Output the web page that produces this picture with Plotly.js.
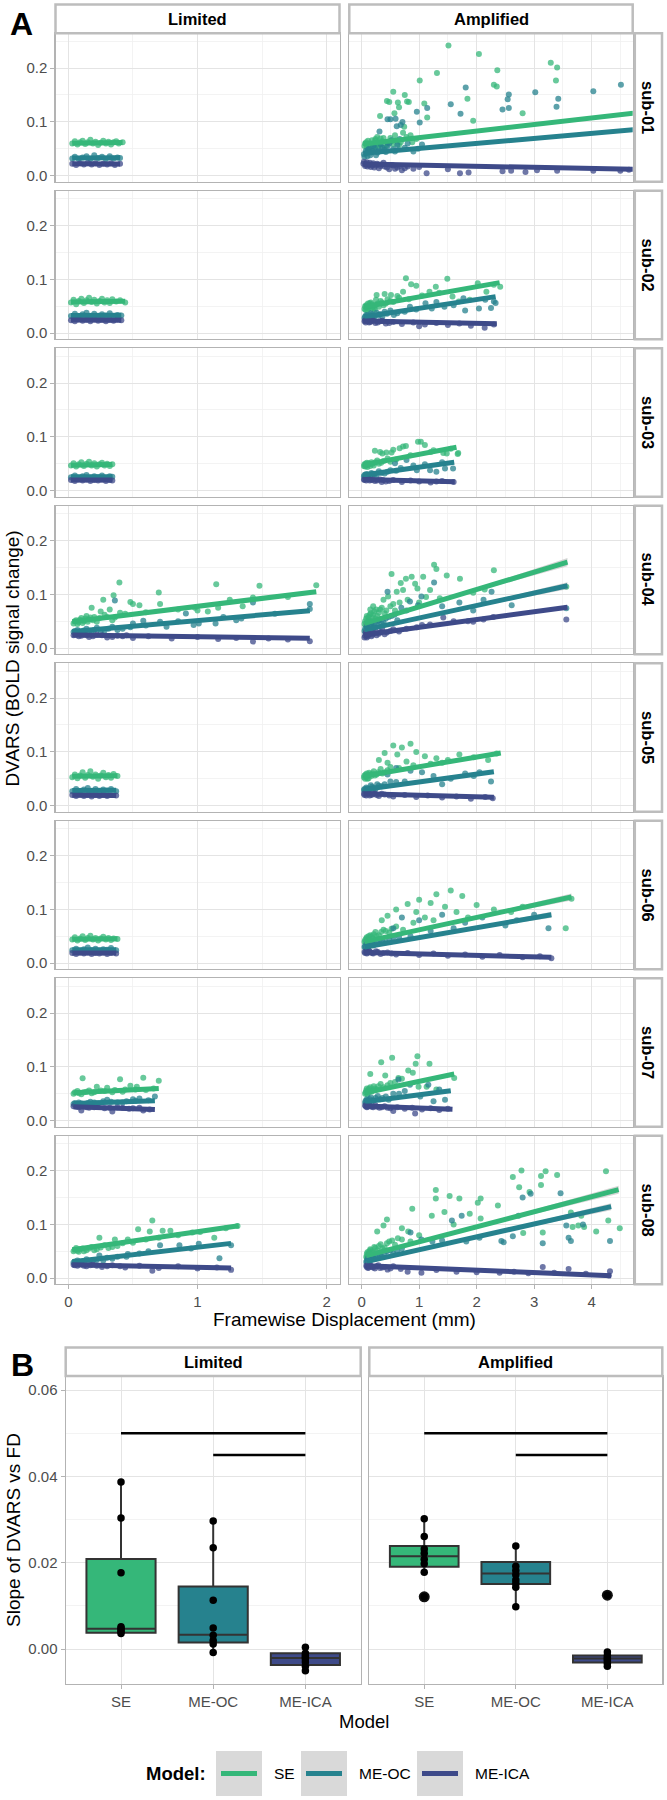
<!DOCTYPE html>
<html><head><meta charset="utf-8">
<script src="https://cdn.plot.ly/plotly-3.0.1.min.js"></script>
<style>html,body{margin:0;padding:0;background:#fff}</style>
</head><body><div id="chart" style="width:667px;height:1800px"></div>
<script>
// ---------------- DATA ----------------
const subjects = ['sub-01','sub-02','sub-03','sub-04','sub-05','sub-06','sub-07','sub-08'];
const conditions = ['Limited','Amplified'];
const models = ['SE','ME-OC','ME-ICA'];

// Panel A points: each panel = [SE pairs, ME-OC pairs, ME-ICA pairs] as [FD, DVARS]
const P01L = [
 [[0.03,0.060],[0.05,0.064],[0.07,0.058],[0.09,0.062],[0.11,0.065],[0.13,0.059],[0.15,0.062],[0.17,0.067],[0.19,0.060],[0.21,0.063],[0.23,0.057],[0.25,0.061],[0.27,0.065],[0.29,0.060],[0.31,0.063],[0.33,0.058],[0.35,0.062],[0.37,0.064],[0.39,0.060],[0.42,0.062]],
 [[0.03,0.032],[0.05,0.035],[0.08,0.031],[0.11,0.034],[0.14,0.036],[0.17,0.031],[0.20,0.038],[0.23,0.033],[0.26,0.035],[0.29,0.031],[0.32,0.036],[0.35,0.032],[0.38,0.034],[0.40,0.033]],
 [[0.03,0.022],[0.06,0.020],[0.09,0.023],[0.12,0.021],[0.15,0.024],[0.18,0.021],[0.21,0.023],[0.24,0.020],[0.27,0.022],[0.30,0.021],[0.33,0.023],[0.36,0.020],[0.40,0.022]]
];
const P01A = [
 [[1.51,0.242],[2.04,0.226],[3.29,0.210],[3.40,0.201],[2.36,0.196],[1.31,0.191],[1.01,0.177],[3.38,0.177],[2.30,0.169],[2.35,0.166],[0.55,0.156],[0.75,0.150],[0.44,0.139],[0.48,0.137],[0.63,0.136],[0.79,0.138],[0.82,0.137],[1.84,0.143],[1.09,0.134],[0.65,0.127],[0.32,0.111],[0.57,0.116],[1.14,0.108],[2.80,0.116],[1.94,0.102],[0.74,0.091],[0.27,0.072],[0.33,0.069],[0.24,0.066],[0.78,0.072],[0.05,0.055],[0.08,0.062],[0.12,0.050],[0.15,0.058],[0.18,0.066],[0.22,0.053],[0.26,0.060],[0.30,0.057],[0.35,0.064],[0.40,0.052],[0.45,0.061],[0.50,0.070],[0.55,0.058],[0.60,0.065],[0.68,0.062],[0.85,0.075],[0.95,0.068],[0.06,0.060],[0.09,0.052],[0.11,0.065],[0.14,0.048],[0.19,0.059],[0.24,0.068],[0.28,0.052],[0.33,0.058],[0.38,0.070],[0.43,0.056],[0.52,0.064],[0.58,0.075],[0.65,0.057],[0.72,0.080],[0.88,0.062]],
 [[1.81,0.164],[2.56,0.151],[2.54,0.142],[3.02,0.155],[4.03,0.157],[4.51,0.169],[3.42,0.143],[3.39,0.128],[2.45,0.123],[2.56,0.126],[1.55,0.133],[1.72,0.115],[1.14,0.126],[0.96,0.119],[0.50,0.105],[0.45,0.105],[0.59,0.106],[0.71,0.100],[0.68,0.094],[0.61,0.092],[1.01,0.099],[0.31,0.082],[0.04,0.040],[0.07,0.046],[0.10,0.036],[0.13,0.050],[0.17,0.043],[0.20,0.055],[0.25,0.038],[0.30,0.047],[0.36,0.052],[0.42,0.044],[0.48,0.060],[0.55,0.049],[0.62,0.057],[0.75,0.052],[0.90,0.045],[1.05,0.058],[0.05,0.035],[0.08,0.042],[0.11,0.048],[0.15,0.038],[0.19,0.046],[0.23,0.052],[0.28,0.043],[0.33,0.058],[0.39,0.048],[0.45,0.055],[0.52,0.066],[0.58,0.045],[0.66,0.068],[0.80,0.060],[0.98,0.050]],
 [[0.03,0.022],[0.06,0.018],[0.09,0.025],[0.12,0.020],[0.16,0.016],[0.20,0.023],[0.25,0.019],[0.30,0.014],[0.35,0.021],[0.40,0.017],[0.48,0.012],[0.55,0.019],[0.62,0.015],[0.70,0.010],[0.80,0.017],[0.90,0.013],[1.00,0.016],[1.13,0.0045],[1.71,0.0045],[1.86,0.006],[1.50,0.012],[2.45,0.008],[2.60,0.009],[2.85,0.007],[3.05,0.010],[3.40,0.009],[4.03,0.009],[4.50,0.009],[4.65,0.011],[0.04,0.026],[0.07,0.021],[0.10,0.017],[0.14,0.024],[0.18,0.019],[0.22,0.015],[0.27,0.022],[0.33,0.018],[0.38,0.024],[0.44,0.015],[0.52,0.020],[0.58,0.013],[0.66,0.018],[0.75,0.014]]
];
const P02L = [
 [[0.02,0.057],[0.04,0.062],[0.06,0.054],[0.08,0.060],[0.10,0.064],[0.12,0.056],[0.14,0.061],[0.16,0.066],[0.18,0.058],[0.20,0.062],[0.22,0.055],[0.24,0.060],[0.26,0.064],[0.28,0.057],[0.30,0.061],[0.32,0.056],[0.34,0.063],[0.37,0.059],[0.40,0.061],[0.44,0.057]],
 [[0.02,0.032],[0.05,0.036],[0.08,0.030],[0.11,0.035],[0.14,0.038],[0.17,0.032],[0.20,0.036],[0.23,0.031],[0.26,0.035],[0.29,0.033],[0.32,0.037],[0.35,0.031],[0.38,0.034],[0.41,0.033]],
 [[0.02,0.024],[0.05,0.022],[0.08,0.026],[0.11,0.023],[0.14,0.025],[0.17,0.022],[0.20,0.026],[0.23,0.023],[0.26,0.025],[0.29,0.022],[0.32,0.025],[0.35,0.023],[0.38,0.026],[0.41,0.024]]
];
const P02A = [
 [[0.77,0.102],[1.49,0.101],[1.29,0.0865],[0.86,0.091],[0.95,0.088],[0.26,0.071],[0.40,0.073],[0.51,0.071],[0.62,0.069],[2.02,0.093],[2.41,0.0865],[0.72,0.077],[1.18,0.077],[1.58,0.068],[0.14,0.0555],[0.18,0.046],[0.25,0.062],[1.69,0.059],[1.88,0.062],[2.17,0.077],[0.05,0.045],[0.08,0.052],[0.10,0.042],[0.13,0.049],[0.16,0.057],[0.20,0.050],[0.23,0.044],[0.28,0.055],[0.33,0.060],[0.38,0.052],[0.45,0.063],[0.55,0.058],[0.65,0.066],[0.82,0.063],[1.05,0.070],[1.35,0.075],[2.30,0.090],[0.06,0.050],[0.07,0.043],[0.09,0.047],[0.11,0.055],[0.12,0.046],[0.15,0.051],[0.18,0.054],[0.21,0.047],[0.24,0.052],[0.30,0.049],[0.35,0.057],[0.42,0.055],[0.50,0.060]],
 [[1.80,0.042],[2.04,0.046],[2.30,0.059],[2.33,0.056],[1.11,0.0555],[1.44,0.049],[0.84,0.049],[0.40,0.040],[1.22,0.046],[1.77,0.065],[0.05,0.028],[0.08,0.034],[0.12,0.030],[0.16,0.037],[0.20,0.032],[0.26,0.038],[0.32,0.035],[0.50,0.042],[0.62,0.037],[0.95,0.044],[1.30,0.058],[1.60,0.052],[2.15,0.062],[2.25,0.047],[0.06,0.031],[0.09,0.027],[0.10,0.033],[0.14,0.029],[0.18,0.035],[0.22,0.030],[0.29,0.033],[0.36,0.031],[0.44,0.036],[0.56,0.034],[0.75,0.040]],
 [[0.05,0.022],[0.09,0.025],[0.13,0.020],[0.18,0.023],[0.24,0.019],[0.32,0.022],[0.42,0.018],[0.55,0.021],[0.70,0.017],[0.90,0.020],[1.10,0.016],[1.30,0.019],[1.50,0.015],[1.70,0.018],[1.90,0.014],[2.14,0.010],[2.30,0.016],[1.00,0.013],[0.06,0.024],[0.07,0.020],[0.11,0.023],[0.15,0.021],[0.20,0.024],[0.28,0.020],[0.36,0.023],[0.48,0.019]]
];
const P03L = [
 [[0.02,0.047],[0.04,0.051],[0.06,0.045],[0.08,0.049],[0.10,0.053],[0.12,0.046],[0.14,0.050],[0.16,0.054],[0.18,0.047],[0.20,0.051],[0.22,0.045],[0.24,0.049],[0.26,0.052],[0.28,0.047],[0.30,0.050],[0.32,0.046],[0.34,0.049]],
 [[0.02,0.025],[0.05,0.028],[0.08,0.024],[0.11,0.027],[0.14,0.029],[0.17,0.024],[0.20,0.027],[0.23,0.025],[0.26,0.028],[0.29,0.024],[0.32,0.027],[0.34,0.026]],
 [[0.02,0.020],[0.05,0.018],[0.08,0.021],[0.11,0.019],[0.14,0.021],[0.17,0.018],[0.20,0.020],[0.23,0.019],[0.26,0.021],[0.29,0.018],[0.32,0.020],[0.34,0.019]]
];
const P03A = [
 [[1.03,0.091],[0.77,0.083],[0.66,0.079],[0.55,0.076],[0.43,0.071],[0.36,0.069],[1.68,0.070],[1.42,0.070],[0.23,0.074],[0.32,0.072],[0.52,0.071],[0.72,0.082],[0.98,0.091],[1.10,0.085],[1.25,0.075],[1.48,0.069],[1.67,0.068],[0.04,0.046],[0.07,0.050],[0.10,0.044],[0.13,0.049],[0.17,0.053],[0.21,0.047],[0.27,0.056],[0.34,0.052],[0.45,0.060],[0.60,0.058],[0.85,0.066],[1.20,0.072],[1.55,0.078],[0.05,0.049],[0.06,0.045],[0.08,0.047],[0.09,0.052],[0.11,0.048],[0.12,0.051],[0.15,0.046],[0.19,0.050],[0.24,0.053],[0.30,0.050],[0.38,0.055],[0.50,0.054]],
 [[0.58,0.051],[0.78,0.057],[0.96,0.038],[1.19,0.038],[1.30,0.035],[1.45,0.041],[1.59,0.041],[0.04,0.027],[0.08,0.031],[0.12,0.028],[0.17,0.033],[0.22,0.030],[0.30,0.036],[0.40,0.032],[0.50,0.038],[0.68,0.042],[0.90,0.047],[1.10,0.049],[1.40,0.053],[0.05,0.029],[0.06,0.026],[0.10,0.030],[0.14,0.027],[0.19,0.031],[0.26,0.029],[0.34,0.033],[0.45,0.035],[0.60,0.037]],
 [[0.04,0.021],[0.08,0.019],[0.12,0.022],[0.17,0.020],[0.23,0.018],[0.32,0.021],[0.42,0.017],[0.55,0.020],[0.70,0.016],[0.85,0.019],[1.00,0.017],[1.20,0.015],[1.40,0.018],[1.60,0.016],[0.35,0.016],[1.30,0.017],[0.05,0.020],[0.10,0.022],[0.14,0.019],[0.20,0.021],[0.27,0.019],[0.37,0.020],[0.48,0.018]]
];
const P04L = [
 [[0.395,0.122],[1.145,0.119],[1.48,0.116],[1.92,0.117],[0.70,0.1035],[0.27,0.090],[0.35,0.0985],[0.48,0.0858],[0.50,0.082],[0.55,0.080],[0.71,0.082],[0.98,0.075],[1.00,0.070],[1.08,0.068],[1.16,0.075],[1.35,0.078],[1.25,0.090],[1.43,0.094],[0.18,0.075],[0.25,0.068],[0.32,0.072],[0.40,0.066],[0.04,0.046],[0.06,0.052],[0.08,0.048],[0.10,0.056],[0.12,0.050],[0.14,0.060],[0.16,0.054],[0.20,0.058],[0.22,0.049],[0.28,0.062],[0.36,0.057],[0.44,0.064],[0.60,0.067],[0.85,0.072],[1.70,0.095],[0.05,0.050],[0.07,0.045],[0.09,0.053],[0.11,0.047],[0.13,0.055],[0.15,0.049],[0.17,0.057],[0.19,0.052],[0.24,0.056],[0.30,0.058],[0.34,0.052]],
 [[0.36,0.0885],[0.91,0.0645],[0.97,0.043],[1.01,0.046],[1.14,0.046],[1.30,0.052],[1.34,0.055],[1.43,0.085],[1.87,0.082],[1.87,0.073],[0.71,0.049],[0.76,0.040],[0.50,0.046],[0.58,0.051],[0.04,0.030],[0.07,0.034],[0.10,0.029],[0.14,0.036],[0.18,0.032],[0.22,0.038],[0.28,0.033],[0.34,0.040],[0.42,0.036],[0.60,0.042],[0.85,0.050],[1.20,0.058],[1.60,0.064],[0.05,0.032],[0.08,0.028],[0.12,0.033],[0.16,0.030],[0.20,0.034],[0.25,0.031],[0.31,0.036],[0.38,0.034],[0.48,0.039]],
 [[0.04,0.024],[0.08,0.022],[0.12,0.026],[0.16,0.021],[0.22,0.025],[0.30,0.020],[0.38,0.023],[0.50,0.019],[0.62,0.022],[0.80,0.018],[1.00,0.021],[1.16,0.017],[1.30,0.019],[1.43,0.0122],[1.55,0.018],[1.70,0.016],[1.87,0.013],[0.45,0.024],[0.06,0.025],[0.10,0.023],[0.14,0.024],[0.19,0.022],[0.26,0.024],[0.34,0.021],[0.42,0.022]]
];
const P04A = [
 [[1.26,0.155],[2.30,0.145],[0.52,0.138],[1.48,0.135],[1.30,0.147],[0.87,0.133],[0.77,0.129],[0.68,0.121],[1.07,0.133],[1.71,0.129],[0.93,0.120],[0.97,0.111],[1.19,0.108],[0.61,0.105],[0.72,0.108],[1.94,0.103],[2.14,0.109],[3.56,0.114],[1.36,0.093],[0.38,0.090],[0.46,0.096],[0.20,0.078],[0.15,0.072],[0.05,0.045],[0.08,0.055],[0.11,0.050],[0.14,0.062],[0.18,0.057],[0.22,0.068],[0.27,0.060],[0.32,0.072],[0.40,0.065],[0.50,0.078],[0.58,0.070],[0.66,0.085],[0.80,0.090],[1.00,0.085],[1.12,0.095],[0.06,0.050],[0.07,0.042],[0.09,0.060],[0.10,0.047],[0.12,0.058],[0.13,0.052],[0.16,0.065],[0.17,0.050],[0.20,0.062],[0.24,0.055],[0.25,0.072],[0.30,0.066],[0.35,0.075],[0.43,0.070],[0.55,0.082]],
 [[1.26,0.122],[0.45,0.105],[2.26,0.105],[1.04,0.096],[2.12,0.090],[2.61,0.080],[3.56,0.074],[0.84,0.087],[0.98,0.080],[1.94,0.070],[0.69,0.075],[0.78,0.070],[0.05,0.032],[0.09,0.040],[0.13,0.036],[0.17,0.045],[0.22,0.041],[0.28,0.050],[0.35,0.046],[0.42,0.055],[0.52,0.060],[0.62,0.052],[1.40,0.078],[1.70,0.085],[0.06,0.036],[0.07,0.030],[0.10,0.042],[0.11,0.034],[0.15,0.040],[0.16,0.048],[0.20,0.038],[0.25,0.044],[0.30,0.052],[0.38,0.048],[0.47,0.058],[0.57,0.062]],
 [[3.56,0.0535],[1.85,0.050],[1.94,0.049],[2.12,0.0535],[2.29,0.058],[1.42,0.057],[0.78,0.036],[0.96,0.039],[1.19,0.044],[0.05,0.020],[0.08,0.026],[0.11,0.022],[0.15,0.030],[0.19,0.025],[0.24,0.032],[0.30,0.027],[0.36,0.034],[0.44,0.029],[0.55,0.035],[0.65,0.031],[1.05,0.043],[1.60,0.050],[0.06,0.023],[0.07,0.028],[0.09,0.020],[0.10,0.024],[0.13,0.027],[0.17,0.022],[0.21,0.028],[0.26,0.024],[0.33,0.030],[0.40,0.026],[0.50,0.032]]
];
const P05L = [
 [[0.03,0.053],[0.05,0.058],[0.07,0.051],[0.09,0.056],[0.11,0.062],[0.13,0.052],[0.15,0.057],[0.17,0.064],[0.19,0.054],[0.21,0.058],[0.23,0.050],[0.25,0.056],[0.27,0.061],[0.29,0.053],[0.31,0.057],[0.33,0.052],[0.35,0.059],[0.38,0.055]],
 [[0.03,0.027],[0.06,0.031],[0.09,0.026],[0.12,0.030],[0.15,0.033],[0.18,0.027],[0.21,0.031],[0.24,0.026],[0.27,0.030],[0.30,0.028],[0.33,0.031],[0.37,0.027]],
 [[0.03,0.020],[0.06,0.018],[0.09,0.021],[0.12,0.018],[0.15,0.020],[0.18,0.017],[0.21,0.020],[0.24,0.018],[0.27,0.021],[0.30,0.018],[0.33,0.020],[0.37,0.019]]
];
const P05A = [
 [[0.55,0.112],[0.70,0.108],[0.85,0.115],[0.40,0.098],[0.62,0.095],[0.95,0.100],[1.10,0.092],[1.30,0.088],[1.50,0.085],[1.70,0.095],[1.95,0.090],[2.20,0.085],[0.30,0.085],[0.45,0.080],[0.78,0.082],[1.20,0.078],[0.04,0.053],[0.07,0.058],[0.10,0.050],[0.13,0.061],[0.17,0.055],[0.21,0.064],[0.26,0.058],[0.33,0.068],[0.40,0.062],[0.50,0.072],[0.65,0.070],[0.90,0.075],[1.40,0.080],[2.35,0.097],[0.05,0.056],[0.06,0.050],[0.08,0.054],[0.09,0.060],[0.11,0.055],[0.12,0.051],[0.15,0.058],[0.19,0.060],[0.23,0.056],[0.29,0.062],[0.36,0.060],[0.45,0.066]],
 [[0.60,0.070],[0.85,0.065],[1.05,0.062],[1.25,0.055],[1.55,0.050],[1.80,0.060],[2.05,0.062],[2.25,0.045],[0.75,0.045],[0.45,0.058],[0.04,0.029],[0.08,0.034],[0.12,0.030],[0.16,0.038],[0.21,0.033],[0.27,0.040],[0.35,0.036],[0.50,0.045],[1.40,0.040],[1.95,0.055],[0.05,0.031],[0.06,0.027],[0.10,0.032],[0.14,0.029],[0.18,0.035],[0.24,0.031],[0.30,0.037],[0.40,0.040],[0.60,0.044]],
 [[0.04,0.022],[0.08,0.019],[0.12,0.024],[0.17,0.020],[0.23,0.023],[0.30,0.018],[0.40,0.021],[0.55,0.017],[0.75,0.020],[0.95,0.016],[1.15,0.019],[1.40,0.015],[1.65,0.017],[1.90,0.013],[2.15,0.016],[2.28,0.014],[0.05,0.020],[0.10,0.023],[0.14,0.019],[0.20,0.022],[0.26,0.020],[0.35,0.022],[0.48,0.019]]
];
const P06L = [
 [[0.03,0.044],[0.05,0.048],[0.07,0.042],[0.09,0.046],[0.11,0.050],[0.13,0.043],[0.15,0.047],[0.17,0.051],[0.19,0.044],[0.21,0.047],[0.23,0.042],[0.25,0.046],[0.27,0.049],[0.29,0.044],[0.31,0.047],[0.33,0.043],[0.35,0.046],[0.38,0.045]],
 [[0.03,0.024],[0.06,0.027],[0.09,0.023],[0.12,0.026],[0.15,0.029],[0.18,0.024],[0.21,0.027],[0.24,0.023],[0.27,0.026],[0.30,0.025],[0.33,0.028],[0.37,0.024]],
 [[0.03,0.019],[0.06,0.017],[0.09,0.020],[0.12,0.018],[0.15,0.020],[0.18,0.017],[0.21,0.019],[0.24,0.018],[0.27,0.020],[0.30,0.017],[0.33,0.019],[0.37,0.018]]
];
const P06A = [
 [[1.55,0.135],[1.30,0.128],[1.75,0.125],[1.00,0.118],[0.80,0.110],[1.20,0.112],[1.45,0.105],[2.00,0.108],[0.60,0.100],[0.95,0.095],[1.65,0.095],[2.30,0.100],[2.60,0.095],[0.45,0.088],[1.10,0.085],[1.85,0.085],[3.55,0.065],[3.65,0.120],[0.35,0.080],[0.05,0.040],[0.08,0.046],[0.11,0.042],[0.15,0.052],[0.19,0.047],[0.24,0.058],[0.30,0.052],[0.38,0.062],[0.48,0.057],[0.60,0.068],[0.72,0.062],[0.90,0.075],[1.25,0.080],[2.80,0.105],[0.06,0.043],[0.07,0.038],[0.09,0.048],[0.10,0.041],[0.12,0.050],[0.13,0.044],[0.17,0.050],[0.21,0.054],[0.26,0.050],[0.34,0.058],[0.42,0.060],[0.52,0.064]],
 [[0.70,0.085],[1.00,0.080],[1.40,0.090],[1.80,0.075],[2.10,0.085],[2.50,0.070],[3.00,0.090],[3.25,0.065],[0.55,0.065],[1.20,0.060],[1.60,0.065],[0.05,0.030],[0.09,0.036],[0.13,0.032],[0.18,0.040],[0.24,0.035],[0.32,0.044],[0.42,0.039],[0.55,0.048],[0.85,0.050],[2.70,0.080],[0.06,0.032],[0.07,0.028],[0.10,0.034],[0.11,0.030],[0.15,0.037],[0.20,0.033],[0.27,0.039],[0.36,0.042],[0.48,0.045],[0.65,0.048]],
 [[0.05,0.021],[0.09,0.018],[0.13,0.023],[0.18,0.019],[0.25,0.022],[0.33,0.017],[0.45,0.020],[0.60,0.016],[0.80,0.019],[1.00,0.015],[1.25,0.018],[1.50,0.014],[1.80,0.016],[2.10,0.012],[2.40,0.015],[2.80,0.011],[3.10,0.013],[3.30,0.009],[0.06,0.019],[0.08,0.022],[0.11,0.020],[0.15,0.021],[0.20,0.018],[0.28,0.021],[0.38,0.019],[0.52,0.018]]
];
const P07L = [
 [[0.11,0.079],[0.40,0.077],[0.58,0.080],[0.70,0.074],[0.22,0.063],[0.30,0.061],[0.48,0.065],[0.53,0.063],[0.04,0.050],[0.07,0.055],[0.10,0.049],[0.14,0.054],[0.18,0.051],[0.25,0.056],[0.34,0.053],[0.44,0.058],[0.60,0.057],[0.66,0.060],[0.05,0.053],[0.08,0.051],[0.12,0.053],[0.16,0.056],[0.20,0.053],[0.28,0.055],[0.36,0.057],[0.42,0.054],[0.52,0.058]],
 [[0.67,0.045],[0.30,0.039],[0.50,0.040],[0.55,0.041],[0.04,0.031],[0.08,0.034],[0.12,0.030],[0.17,0.035],[0.23,0.032],[0.38,0.034],[0.45,0.036],[0.62,0.038],[0.27,0.036],[0.05,0.033],[0.10,0.032],[0.15,0.033],[0.20,0.034],[0.33,0.035],[0.42,0.034],[0.52,0.037]],
 [[0.34,0.0172],[0.04,0.027],[0.08,0.025],[0.12,0.028],[0.16,0.024],[0.22,0.026],[0.28,0.023],[0.38,0.025],[0.47,0.022],[0.55,0.024],[0.63,0.021],[0.10,0.019],[0.58,0.019],[0.06,0.026],[0.14,0.025],[0.20,0.025],[0.32,0.024],[0.42,0.024],[0.50,0.023]]
];
const P07A = [
 [[0.34,0.1085],[0.53,0.117],[0.97,0.120],[0.94,0.106],[1.18,0.106],[0.81,0.0935],[0.89,0.089],[0.15,0.087],[0.41,0.084],[0.64,0.0795],[0.70,0.078],[1.61,0.0795],[0.99,0.063],[1.13,0.063],[1.30,0.058],[0.06,0.050],[0.08,0.056],[0.10,0.048],[0.13,0.060],[0.17,0.054],[0.21,0.064],[0.26,0.058],[0.33,0.068],[0.45,0.066],[0.58,0.072],[0.07,0.053],[0.09,0.060],[0.11,0.052],[0.12,0.057],[0.15,0.062],[0.19,0.057],[0.23,0.060],[0.29,0.064],[0.38,0.062],[0.50,0.070]],
 [[0.64,0.0765],[0.84,0.067],[1.16,0.067],[1.45,0.039],[1.25,0.036],[1.02,0.045],[0.47,0.039],[0.06,0.034],[0.09,0.040],[0.12,0.036],[0.16,0.043],[0.21,0.038],[0.28,0.046],[0.36,0.042],[0.55,0.050],[0.75,0.055],[1.35,0.058],[0.07,0.037],[0.08,0.033],[0.10,0.038],[0.14,0.040],[0.18,0.036],[0.24,0.042],[0.32,0.040],[0.42,0.045],[0.65,0.050]],
 [[0.93,0.0135],[0.06,0.028],[0.09,0.025],[0.13,0.029],[0.18,0.026],[0.24,0.028],[0.31,0.024],[0.40,0.027],[0.50,0.023],[0.62,0.025],[0.75,0.022],[0.88,0.024],[1.05,0.021],[1.20,0.023],[1.35,0.020],[1.50,0.022],[0.55,0.018],[0.07,0.027],[0.10,0.026],[0.15,0.027],[0.20,0.025],[0.27,0.026],[0.35,0.025],[0.45,0.024]]
];
const P08L = [
 [[0.65,0.107],[0.54,0.091],[0.63,0.087],[0.73,0.088],[0.79,0.088],[0.24,0.075],[0.36,0.072],[0.46,0.072],[0.96,0.085],[1.13,0.075],[1.22,0.093],[1.31,0.097],[0.04,0.050],[0.06,0.056],[0.08,0.049],[0.11,0.055],[0.14,0.052],[0.18,0.058],[0.22,0.054],[0.28,0.061],[0.34,0.058],[0.42,0.065],[0.50,0.066],[0.60,0.072],[0.70,0.075],[0.85,0.080],[1.02,0.086],[0.05,0.053],[0.07,0.051],[0.09,0.054],[0.12,0.050],[0.16,0.055],[0.20,0.052],[0.25,0.057],[0.31,0.056],[0.38,0.060]],
 [[1.17,0.037],[0.71,0.061],[0.86,0.061],[1.01,0.064],[1.26,0.061],[0.24,0.042],[0.46,0.045],[0.04,0.029],[0.07,0.033],[0.10,0.030],[0.14,0.035],[0.19,0.032],[0.30,0.038],[0.38,0.040],[0.55,0.046],[0.62,0.050],[0.95,0.055],[0.05,0.031],[0.08,0.029],[0.12,0.032],[0.16,0.030],[0.22,0.034],[0.27,0.033],[0.34,0.036],[0.45,0.040]],
 [[0.65,0.0137],[1.26,0.0155],[0.04,0.025],[0.07,0.023],[0.10,0.026],[0.14,0.022],[0.19,0.025],[0.26,0.021],[0.34,0.024],[0.44,0.020],[0.55,0.023],[0.70,0.019],[0.85,0.022],[1.00,0.018],[1.15,0.020],[0.05,0.024],[0.08,0.026],[0.12,0.023],[0.17,0.024],[0.22,0.023],[0.30,0.022],[0.40,0.022]]
];
const P08A = [
 [[2.78,0.200],[3.20,0.199],[4.25,0.199],[3.12,0.190],[3.40,0.192],[2.63,0.188],[1.29,0.164],[2.74,0.169],[2.92,0.160],[3.12,0.173],[1.53,0.153],[1.70,0.148],[1.29,0.148],[2.07,0.148],[2.02,0.140],[0.88,0.129],[2.37,0.135],[1.44,0.123],[1.22,0.116],[1.88,0.120],[2.07,0.111],[3.64,0.122],[3.82,0.116],[3.77,0.098],[3.67,0.095],[3.87,0.095],[4.08,0.087],[4.29,0.107],[4.49,0.093],[3.15,0.085],[2.81,0.084],[0.44,0.109],[0.70,0.093],[0.81,0.087],[0.27,0.087],[0.38,0.098],[0.63,0.074],[0.85,0.068],[0.08,0.040],[0.10,0.048],[0.12,0.044],[0.15,0.054],[0.18,0.049],[0.22,0.058],[0.27,0.052],[0.33,0.063],[0.40,0.057],[0.48,0.068],[0.58,0.062],[1.00,0.080],[1.60,0.100],[0.09,0.045],[0.09,0.038],[0.11,0.042],[0.13,0.050],[0.14,0.046],[0.16,0.052],[0.20,0.047],[0.24,0.056],[0.30,0.060],[0.36,0.055],[0.44,0.065],[0.53,0.070],[0.70,0.072]],
 [[3.46,0.158],[2.80,0.150],[2.94,0.157],[1.74,0.116],[1.57,0.107],[2.73,0.116],[3.56,0.098],[3.60,0.075],[3.64,0.069],[4.32,0.069],[3.15,0.065],[2.43,0.069],[2.47,0.067],[1.82,0.068],[2.05,0.075],[1.23,0.068],[1.04,0.072],[0.85,0.085],[2.63,0.078],[3.85,0.100],[0.08,0.030],[0.11,0.037],[0.14,0.033],[0.18,0.041],[0.22,0.036],[0.28,0.045],[0.35,0.040],[0.44,0.050],[0.55,0.046],[0.70,0.055],[1.40,0.070],[0.09,0.033],[0.10,0.029],[0.12,0.035],[0.13,0.040],[0.16,0.034],[0.20,0.039],[0.25,0.037],[0.31,0.043],[0.40,0.045],[0.50,0.052],[0.62,0.050]],
 [[3.15,0.021],[3.60,0.017],[4.32,0.013],[1.04,0.010],[1.65,0.012],[2.00,0.011],[2.40,0.010],[2.65,0.012],[0.08,0.023],[0.11,0.019],[0.14,0.025],[0.18,0.021],[0.23,0.018],[0.29,0.024],[0.36,0.020],[0.45,0.016],[0.55,0.022],[0.68,0.017],[0.80,0.012],[1.30,0.015],[2.90,0.009],[3.35,0.010],[3.90,0.008],[4.30,0.005],[0.09,0.021],[0.10,0.024],[0.12,0.020],[0.16,0.023],[0.20,0.020],[0.26,0.022],[0.32,0.019],[0.40,0.021],[0.50,0.018]]
];

// Fitted regression lines [FD start, DVARS start, FD end, DVARS end] per subject, for SE / ME-OC / ME-ICA
const fitLimited = [
 [[0.03,0.0605,0.42,0.0615],[0.03,0.033,0.40,0.0335],[0.03,0.022,0.40,0.0215]],
 [[0.02,0.058,0.44,0.0595],[0.02,0.033,0.41,0.0335],[0.02,0.0245,0.41,0.024]],
 [[0.02,0.0475,0.34,0.0485],[0.02,0.026,0.34,0.026],[0.02,0.020,0.34,0.020]],
 [[0.03,0.049,1.92,0.105],[0.03,0.031,1.87,0.0697],[0.03,0.0245,1.87,0.0184]],
 [[0.03,0.0545,0.38,0.0555],[0.03,0.028,0.37,0.0285],[0.03,0.0195,0.37,0.019]],
 [[0.03,0.0445,0.38,0.0455],[0.03,0.025,0.37,0.025],[0.03,0.019,0.37,0.019]],
 [[0.04,0.052,0.70,0.060],[0.04,0.032,0.67,0.037],[0.04,0.026,0.67,0.021]],
 [[0.03,0.053,1.32,0.0976],[0.03,0.0307,1.26,0.0647],[0.03,0.025,1.26,0.019]]
];
const fitAmplified = [
 [[0.03,0.059,4.80,0.117],[0.03,0.0416,4.80,0.086],[0.03,0.0218,4.80,0.0116]],
 [[0.04,0.049,2.40,0.094],[0.04,0.0307,2.33,0.068],[0.04,0.0227,2.35,0.0175]],
 [[0.03,0.048,1.65,0.0806],[0.03,0.029,1.61,0.0527],[0.03,0.021,1.62,0.0168]],
 [[0.05,0.046,3.58,0.160],[0.05,0.034,3.58,0.116],[0.05,0.025,3.58,0.076]],
 [[0.04,0.055,2.42,0.098],[0.04,0.030,2.30,0.063],[0.04,0.022,2.30,0.0155]],
 [[0.05,0.040,3.65,0.123],[0.05,0.030,3.30,0.090],[0.05,0.020,3.30,0.011]],
 [[0.06,0.052,1.61,0.0868],[0.06,0.0353,1.55,0.0558],[0.06,0.0273,1.58,0.0212]],
 [[0.08,0.042,4.47,0.1645],[0.08,0.0307,4.34,0.133],[0.08,0.023,4.34,0.0047]]
];
// half-width of the confidence band at the far end of each amplified fit (0 = not visible)
const ciEndAmplified = [
 [0,0,0],[0,0,0],[0,0,0],[0.0075,0.0065,0],[0,0,0],[0.0065,0.0055,0],[0,0,0],[0.0075,0.0065,0]
];

// Panel B: per-subject slopes (SE, ME-OC, ME-ICA)
const slopesLimited = [
 [0.0387,0.0304,0.0177,0.0052,0.0048,0.0044,0.0040,0.0036],
 [0.0297,0.0235,0.0113,0.0049,0.0032,0.0020,0.0012,-0.0008],
 [0.0004,-0.0010,-0.0015,-0.0019,-0.0023,-0.0030,-0.0040,-0.0050]
];
const slopesAmplified = [
 [0.0302,0.0261,0.0232,0.0222,0.0208,0.0198,0.0178,0.0121],
 [0.0239,0.0192,0.0182,0.0172,0.0160,0.0152,0.0143,0.0098],
 [0.0125,-0.0007,-0.0015,-0.0020,-0.0023,-0.0027,-0.0033,-0.0040]
];
// box statistics (SE, ME-OC, ME-ICA)
const q1Limited  = [0.0038, 0.0015,-0.0037];
const medLimited = [0.0047, 0.0033,-0.0021];
const q3Limited  = [0.0209, 0.0145,-0.0010];
const loLimited  = [0.0036,-0.0008,-0.0050];
const hiLimited  = [0.0387, 0.0297, 0.0004];
const q1Amplified  = [0.0191, 0.0151,-0.0031];
const medAmplified = [0.0215, 0.0175,-0.0022];
const q3Amplified  = [0.0239, 0.0202,-0.0015];
const loAmplified  = [0.0178, 0.0098,-0.0040];
const hiAmplified  = [0.0302, 0.0239,-0.0007];
const outliersAmplified = [['SE',0.0121],['ME-ICA',0.0125]];
// significance bars
const sigFrom = ['SE','ME-OC'];
const sigTo   = ['ME-ICA','ME-ICA'];
const sigY    = [0.050, 0.045];

// ---------------- STYLE / LAYOUT ----------------
const colors = ['#35b779','#26828e','#3e4a89'];
const W=667, H=1800;
const fx=p=>p/W, fy=p=>1-p/H;
const FONT='Liberation Sans, Arial, Helvetica, sans-serif';
const tickFont={family:FONT,size:15,color:'#4d4d4d'};
const GRID='#e4e4e4', MINOR='#f0f0f0', BORDER='#b3b3b3', STRIPLINE='#bdbdbd';
const colX=[[55.5,339.5],[349.3,632.7]];
const rowTop=r=>33.3+r*157.5, rowH=148.4;
const xRangeA=[[-0.1,2.1],[-0.215,4.715]];
const yRangeA=[-0.0112,0.2647];

const panelPoints=[[P01L,P01A],[P02L,P02A],[P03L,P03A],[P04L,P04A],[P05L,P05A],[P06L,P06A],[P07L,P07A],[P08L,P08A]];
const panelFits=[fitLimited,fitAmplified];

const traces=[];
const layout={width:W,height:H,margin:{l:0,r:0,t:0,b:0},paper_bgcolor:'#fff',plot_bgcolor:'#fff',
  showlegend:false,font:{family:FONT,color:'#000'},shapes:[],annotations:[]};

function axBase(){return {showgrid:true,gridcolor:GRID,gridwidth:1,zeroline:false,showline:true,mirror:true,
  linecolor:BORDER,linewidth:1.2,tickfont:tickFont,fixedrange:true};}

for(let r=0;r<subjects.length;r++){
  for(let c=0;c<2;c++){
    const k=r*2+c+1;
    const xn='x'+(k===1?'':k), yn='y'+(k===1?'':k);
    const xa=axBase();
    Object.assign(xa,{domain:[fx(colX[c][0]),fx(colX[c][1])],anchor:yn,range:xRangeA[c],tick0:0,dtick:1,
      minor:{dtick:0.5,tick0:0,showgrid:true,gridcolor:MINOR,gridwidth:0.8,ticks:''},
      showticklabels:r===subjects.length-1,ticks:r===subjects.length-1?'outside':'',ticklen:4,tickcolor:BORDER});
    const ya=axBase();
    Object.assign(ya,{domain:[fy(rowTop(r)+rowH),fy(rowTop(r))],anchor:xn,range:yRangeA,tick0:0,dtick:0.1,tickformat:'.1f',
      minor:{dtick:0.05,tick0:0,showgrid:true,gridcolor:MINOR,gridwidth:0.8,ticks:''},
      showticklabels:c===0,ticks:c===0?'outside':'',ticklen:4,tickcolor:BORDER});
    layout['xaxis'+(k===1?'':k)]=xa; layout['yaxis'+(k===1?'':k)]=ya;
    const pts=panelPoints[r][c];
    for(let m=0;m<models.length;m++){
      traces.push({type:'scatter',mode:'markers',xaxis:xn,yaxis:yn,x:pts[m].map(p=>p[0]),y:pts[m].map(p=>p[1]),
        marker:{color:colors[m],size:6,opacity:0.75,line:{width:0}},hoverinfo:'skip',cliponaxis:true});
    }
    // confidence ribbons (amplified only, where visible)
    if(c===1){
      for(let m=0;m<models.length;m++){
        const hw=ciEndAmplified[r][m]; if(!hw) continue;
        const f=panelFits[c][r][m];
        const xm=(f[0]+f[2])/2, ym=(f[1]+f[3])/2, h0=hw*0.6, hm=hw*0.3;
        traces.push({type:'scatter',mode:'lines',xaxis:xn,yaxis:yn,fill:'toself',fillcolor:'rgba(150,150,150,0.4)',
          line:{width:0},x:[f[0],xm,f[2],f[2],xm,f[0],f[0]],y:[f[1]+h0,ym+hm,f[3]+hw,f[3]-hw,ym-hm,f[1]-h0,f[1]+h0],hoverinfo:'skip'});
      }
    }
    for(let m=0;m<models.length;m++){
      const f=panelFits[c][r][m];
      traces.push({type:'scatter',mode:'lines',xaxis:xn,yaxis:yn,x:[f[0],f[2]],y:[f[1],f[3]],
        line:{color:colors[m],width:5},hoverinfo:'skip'});
    }
    if(c===1){
      layout.shapes.push({type:'rect',xref:'paper',yref:'paper',x0:fx(634.8),x1:fx(662),y0:fy(rowTop(r)+rowH),y1:fy(rowTop(r)),
        fillcolor:'#fff',line:{color:STRIPLINE,width:2.5}});
      layout.annotations.push({xref:'paper',yref:'paper',x:fx(648.4),y:fy(rowTop(r)+rowH/2),text:'<b>'+subjects[r]+'</b>',
        showarrow:false,textangle:90,font:{family:FONT,size:16.5,color:'#000'},xanchor:'center',yanchor:'middle'});
    }
  }
}
for(let c=0;c<2;c++){
  layout.shapes.push({type:'rect',xref:'paper',yref:'paper',x0:fx(colX[c][0]),x1:fx(colX[c][1]),y0:fy(33.3),y1:fy(4.5),
    fillcolor:'#fff',line:{color:STRIPLINE,width:2.5}});
  layout.annotations.push({xref:'paper',yref:'paper',x:fx((colX[c][0]+colX[c][1])/2),y:fy(19),text:'<b>'+conditions[c]+'</b>',
    showarrow:false,font:{family:FONT,size:16.5,color:'#000'},xanchor:'center',yanchor:'middle'});
}
layout.annotations.push({xref:'paper',yref:'paper',x:fx(344),y:fy(1319),text:'Framewise Displacement (mm)',showarrow:false,
  font:{family:FONT,size:19,color:'#000'},xanchor:'center',yanchor:'middle'});
layout.annotations.push({xref:'paper',yref:'paper',x:fx(13),y:fy(658.6),text:'DVARS (BOLD signal change)',showarrow:false,textangle:-90,
  font:{family:FONT,size:19,color:'#000'},xanchor:'center',yanchor:'middle'});
layout.annotations.push({xref:'paper',yref:'paper',x:fx(21),y:fy(24),text:'<b>A</b>',showarrow:false,
  font:{family:FONT,size:32,color:'#000'},xanchor:'center',yanchor:'middle'});

// ---------------- PANEL B ----------------
const colB=[[65.7,360.7],[369.3,662.3]];
const bTop=1376, bBot=1684;
const boxSets=[
  {q1:q1Limited,med:medLimited,q3:q3Limited,lo:loLimited,hi:hiLimited,pts:slopesLimited,out:[]},
  {q1:q1Amplified,med:medAmplified,q3:q3Amplified,lo:loAmplified,hi:hiAmplified,pts:slopesAmplified,out:outliersAmplified}
];
for(let c=0;c<2;c++){
  const k=17+c, xn='x'+k, yn='y'+k;
  const xa=axBase();
  Object.assign(xa,{domain:[fx(colB[c][0]),fx(colB[c][1])],anchor:yn,type:'category',categoryorder:'array',categoryarray:models,
    range:[-0.6,2.6],ticks:'outside',ticklen:4,tickcolor:BORDER,showticklabels:true});
  const ya=axBase();
  Object.assign(ya,{domain:[fy(bBot),fy(bTop)],anchor:xn,range:[-0.0081,0.0633],tick0:0,dtick:0.02,tickformat:'.2f',
    minor:{dtick:0.01,tick0:0,showgrid:true,gridcolor:MINOR,gridwidth:0.8,ticks:''},
    showticklabels:c===0,ticks:c===0?'outside':'',ticklen:4,tickcolor:BORDER});
  layout['xaxis'+k]=xa; layout['yaxis'+k]=ya;
  const s=boxSets[c];
  for(let m=0;m<models.length;m++){
    traces.push({type:'box',xaxis:xn,yaxis:yn,x:[models[m]],q1:[s.q1[m]],median:[s.med[m]],q3:[s.q3[m]],
      lowerfence:[s.lo[m]],upperfence:[s.hi[m]],fillcolor:colors[m],line:{color:'#333333',width:2},
      whiskerwidth:0,boxpoints:false,width:0.75,hoverinfo:'skip'});
  }
  for(let i=0;i<sigY.length;i++){
    traces.push({type:'scatter',mode:'lines',xaxis:xn,yaxis:yn,x:[sigFrom[i],sigTo[i]],y:[sigY[i],sigY[i]],
      line:{color:'#000',width:2.5},hoverinfo:'skip'});
  }
  if(s.out.length){
    traces.push({type:'scatter',mode:'markers',xaxis:xn,yaxis:yn,x:s.out.map(o=>o[0]),y:s.out.map(o=>o[1]),
      marker:{color:'#111',size:11,line:{width:0}},hoverinfo:'skip'});
  }
  for(let m=0;m<models.length;m++){
    traces.push({type:'scatter',mode:'markers',xaxis:xn,yaxis:yn,x:s.pts[m].map(()=>models[m]),y:s.pts[m],
      marker:{color:'#000',size:7.5,line:{width:0}},hoverinfo:'skip'});
  }
  layout.shapes.push({type:'rect',xref:'paper',yref:'paper',x0:fx(colB[c][0]),x1:fx(colB[c][1]),y0:fy(bTop),y1:fy(1347.5),
    fillcolor:'#fff',line:{color:STRIPLINE,width:2.5}});
  layout.annotations.push({xref:'paper',yref:'paper',x:fx((colB[c][0]+colB[c][1])/2),y:fy(1362),text:'<b>'+conditions[c]+'</b>',
    showarrow:false,font:{family:FONT,size:16.5,color:'#000'},xanchor:'center',yanchor:'middle'});
}
layout.annotations.push({xref:'paper',yref:'paper',x:fx(364),y:fy(1721),text:'Model',showarrow:false,
  font:{family:FONT,size:18.5,color:'#000'},xanchor:'center',yanchor:'middle'});
layout.annotations.push({xref:'paper',yref:'paper',x:fx(13),y:fy(1530),text:'Slope of DVARS vs FD',showarrow:false,textangle:-90,
  font:{family:FONT,size:19,color:'#000'},xanchor:'center',yanchor:'middle'});
layout.annotations.push({xref:'paper',yref:'paper',x:fx(22),y:fy(1365),text:'<b>B</b>',showarrow:false,
  font:{family:FONT,size:32,color:'#000'},xanchor:'center',yanchor:'middle'});

// ---------------- LEGEND ----------------
const legY=1773.5, keyL=[216,301,417], keyW=46, keyH=45;
layout.annotations.push({xref:'paper',yref:'paper',x:fx(208),y:fy(legY),text:'<b>Model:</b>',showarrow:false,
  font:{family:FONT,size:18.5,color:'#000'},xanchor:'right',yanchor:'middle'});
for(let m=0;m<models.length;m++){
  layout.shapes.push({type:'rect',xref:'paper',yref:'paper',x0:fx(keyL[m]),x1:fx(keyL[m]+keyW),y0:fy(legY+keyH/2),y1:fy(legY-keyH/2),
    fillcolor:'#d9d9d9',line:{width:0}});
  layout.shapes.push({type:'line',xref:'paper',yref:'paper',x0:fx(keyL[m]+5),x1:fx(keyL[m]+keyW-5),y0:fy(legY),y1:fy(legY),
    line:{color:colors[m],width:5}});
  layout.annotations.push({xref:'paper',yref:'paper',x:fx(keyL[m]+keyW+10),y:fy(legY),text:models[m],showarrow:false,
    font:{family:FONT,size:15.5,color:'#000'},xanchor:'left',yanchor:'middle'});
}

Plotly.newPlot('chart',traces,layout,{staticPlot:true,displayModeBar:false});
</script></body></html>
